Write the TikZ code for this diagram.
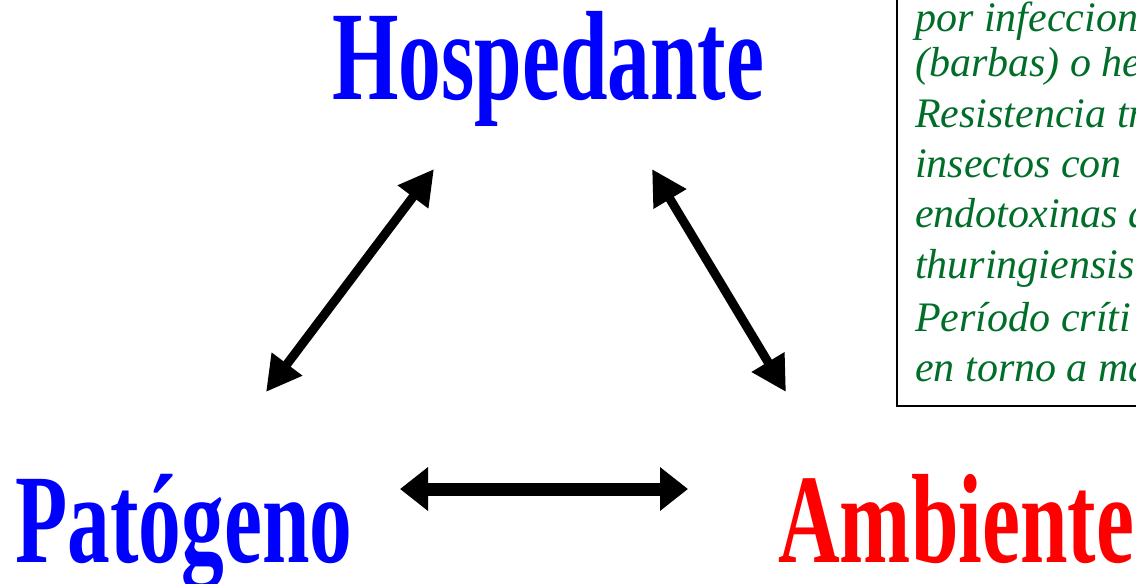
\documentclass[tikz,border=0pt]{standalone}
\usepackage{fontspec}
\setmainfont{Liberation Serif}
\newfontfamily\narrowserif{Liberation Serif}[FakeStretch=0.673]
\usetikzlibrary{arrows.meta}
\definecolor{hostblue}{RGB}{0,0,255}
\definecolor{envred}{RGB}{255,0,0}
\definecolor{notegreen}{RGB}{0,110,40}
\tikzset{
  vertex/.style={anchor=base west, inner sep=0pt,
    font=\narrowserif\bfseries\fontsize{127}{127}\selectfont},
  noteline/.style={anchor=base west, inner sep=0pt, text=notegreen,
    font=\itshape\fontsize{42}{50}\selectfont},
  duplex/.style={line width=9pt,
    {Triangle[length=35pt,width=36pt]}-{Triangle[length=35pt,width=36pt]}},
  wideduplex/.style={line width=13pt,
    {Triangle[length=28pt,width=42pt]}-{Triangle[length=28pt,width=42pt]}},
  notebox/.style={draw=black, line width=1.8pt}
}
\begin{document}
\begin{tikzpicture}[x=1pt,y=-1pt]
\useasboundingbox (0,0) rectangle (1136,584);
\clip (0,0) rectangle (1136,584);

% the three corners of the triangle
\node[vertex, text=hostblue] (host) at (332,99) {Hospedante};
\node[vertex, text=hostblue] (path) at (15,562) {Patógeno};
\node[vertex, text=envred] (env) at (778,562) {Ambiente};

% arrow end points
\coordinate (hl) at (434,169);
\coordinate (pl) at (266,392);
\coordinate (hr) at (652,169);
\coordinate (er) at (786,392);
\coordinate (pb) at (400,489);
\coordinate (eb) at (688,489);

\draw[duplex] (pl) -- (hl);
\draw[duplex] (hr) -- (er);
\draw[wideduplex] (pb) -- (eb);

% note box on the right
\draw[notebox] (1150,-20) -- (897,-20) -- (897,406) -- (1150,406);
\node[noteline] (n1) at (915,31) {por infeccion};
\node[noteline] (n2) at (915,76) {(barbas) o he};
\node[noteline] (n3) at (915,127) {Resistencia tr};
\node[noteline] (n4) at (915,177) {insectos con};
\node[noteline] (n5) at (915,227) {endotoxinas d};
\node[noteline] (n6) at (915,278) {thuringiensis};
\node[noteline] (n7) at (915,331) {Período críti};
\node[noteline] (n8) at (915,381) {en torno a ma};
\end{tikzpicture}
\end{document}
